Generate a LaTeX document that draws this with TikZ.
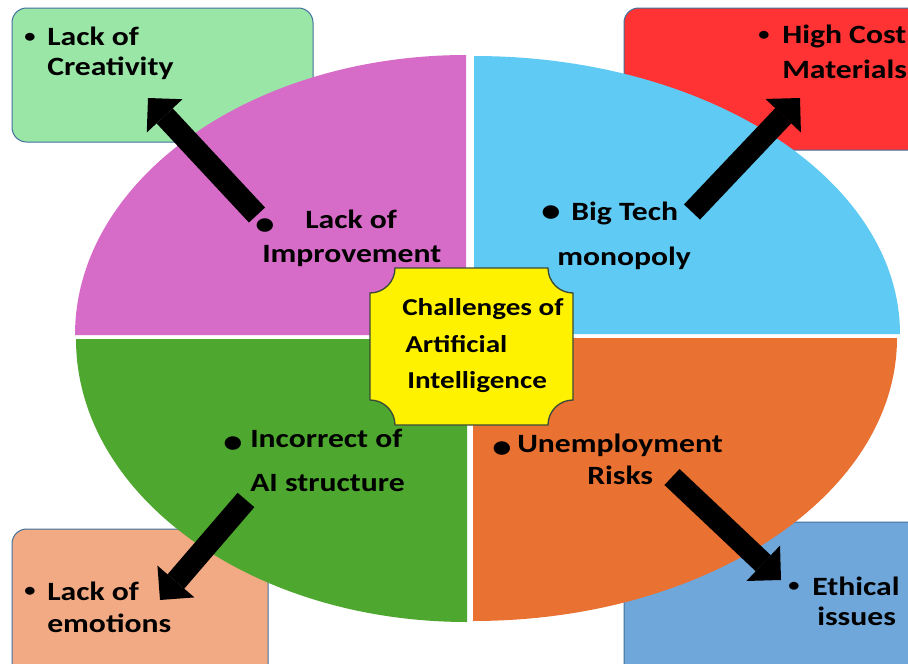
\documentclass[tikz,border=0pt]{standalone}
\usepackage{fontspec}
\newfontfamily\lblfont{Carlito}[FakeStretch=1.2]
\usetikzlibrary{arrows.meta}
\definecolor{pinkq}{HTML}{D76CC8}
\definecolor{blueq}{HTML}{5FCAF3}
\definecolor{greenq}{HTML}{4EA72E}
\definecolor{orangeq}{HTML}{E97132}
\definecolor{greenbox}{HTML}{9AE6A7}
\definecolor{redbox}{HTML}{FF3333}
\definecolor{salmonbox}{HTML}{F2AA84}
\definecolor{bluebox}{HTML}{6FA7DB}
\definecolor{boxline}{HTML}{41719C}
\definecolor{plaqueline}{HTML}{3A4A3A}
\begin{document}
\begin{tikzpicture}[x=0.75pt,y=-0.75pt,
  quad/.style={fill=#1,draw=none},
  infobox/.style={fill=#1,draw=boxline,line width=0.75pt,rounded corners=11pt},
  txt/.style={anchor=base west,inner sep=0pt,text=black,font=\lblfont\bfseries\fontsize{19.8}{24}\selectfont},
  ctxt/.style={anchor=base west,inner sep=0pt,text=black,font=\lblfont\bfseries\fontsize{18.2}{22}\selectfont},
  smallbul/.style={anchor=base,inner sep=0pt,text=black,font=\lblfont\bfseries\fontsize{14}{16}\selectfont},
  bigbul/.style={anchor=base,inner sep=0pt,text=black,font=\lblfont\bfseries\fontsize{24}{28}\selectfont},
  bigarrow/.style={draw=black,line width=16.5pt,-{Triangle[length=18.3pt,width=36.6pt,line width=0pt]}}
]
\clip (0,0) rectangle (908,664);
\fill[white] (0,0) rectangle (908,664);

% outer boxes
\draw[infobox=greenbox] (12,8) rectangle (313,142);
\draw[infobox=redbox] (624,8) rectangle (940,150);
\draw[infobox=salmonbox] (12,529) rectangle (268,700);
\draw[infobox=bluebox] (624,522) rectangle (940,700);

% quadrants
\path[quad=pinkq] (466,335) -- (75,335) arc[start angle=180,end angle=270,x radius=391,y radius=280] -- cycle;
\path[quad=blueq] (474,334) -- (474,56) arc[start angle=270,end angle=360,x radius=426,y radius=278] -- cycle;
\path[quad=greenq] (467,339) -- (76,339) arc[start angle=180,end angle=90,x radius=391,y radius=283] -- cycle;
\path[quad=orangeq] (473,338) -- (897,338) arc[start angle=0,end angle=90,x radius=424,y radius=283] -- cycle;

% central plaque
\draw[fill=yellow,draw=plaqueline,line width=1pt]
  (395,268) -- (548,268) arc[start angle=180,end angle=90,radius=25]
  -- (573,400) arc[start angle=270,end angle=180,radius=25]
  -- (395,425) arc[start angle=0,end angle=-90,radius=25]
  -- (370,293) arc[start angle=90,end angle=0,radius=25] -- cycle;

% arrows
\coordinate (a1s) at (257,215); \coordinate (a1e) at (148,98);
\coordinate (a2s) at (692,212); \coordinate (a2e) at (800,98);
\coordinate (a3s) at (246,500); \coordinate (a3e) at (160,600);
\coordinate (a4s) at (672,477); \coordinate (a4e) at (781,580);
\draw[bigarrow] (a1s) -- (a1e);
\draw[bigarrow] (a2s) -- (a2e);
\draw[bigarrow] (a3s) -- (a3e);
\draw[bigarrow] (a4s) -- (a4e);

% green box text
\node[smallbul] (b1) at (30,42) {•};
\node[txt] (t1a) at (47,45) {Lack of};
\node[txt] (t1b) at (47,75) {Creativity};
% red box text
\node[smallbul] (b2) at (764,40) {•};
\node[txt] (t2a) at (782,43) {High Cost};
\node[txt] (t2b) at (782,78) {Materials};
% salmon box text
\node[smallbul] (b3) at (30,596) {•};
\node[txt] (t3a) at (47,600) {Lack of};
\node[txt] (t3b) at (47,632) {emotions};
% blue box text
\node[smallbul] (b4) at (794,591) {•};
\node[txt] (t4a) at (812,595) {Ethical};
\node[txt] (t4b) at (817,625) {issues};

% pink quadrant
\node[bigbul] (q1b) at (265,234) {•};
\node[txt] (q1a) at (305,228) {Lack of};
\node[txt] (q1c) at (262,262) {Improvement};
% blue quadrant
\node[bigbul] (q2b) at (551,221) {•};
\node[txt] (q2a) at (571,220) {Big Tech};
\node[txt] (q2c) at (557,265) {monopoly};
% green quadrant
\node[bigbul] (q3b) at (233,452) {•};
\node[txt] (q3a) at (250,447) {Incorrect of};
\node[txt] (q3c) at (250,491) {AI structure};
% orange quadrant
\node[bigbul] (q4b) at (502,457) {•};
\node[txt] (q4a) at (517,452) {Unemployment};
\node[txt] (q4c) at (587,484) {Risks};

% centre
\node[ctxt] (c1) at (402,315) {Challenges of};
\node[ctxt] (c2) at (405,352) {Artificial};
\node[ctxt] (c3) at (407,388) {Intelligence};
\end{tikzpicture}
\end{document}
